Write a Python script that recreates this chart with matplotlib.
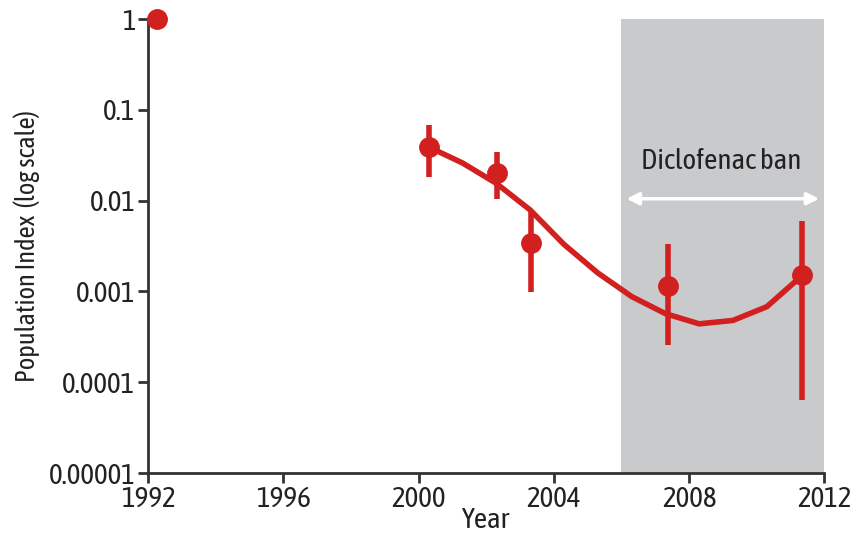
import matplotlib
matplotlib.use('Agg')
import matplotlib.pyplot as plt

# Survey estimates with error bar limits
survey_years = [1992.27, 2000.3, 2002.33, 2003.33, 2007.37, 2011.33]
survey_index = [1.0, 0.039, 0.020, 0.0034, 0.00115, 0.00152]
survey_upper = [1.0, 0.068, 0.034, 0.0079, 0.0033, 0.0059]
survey_lower = [1.0, 0.018, 0.0105, 0.00099, 0.00026, 0.000064]

# Fitted trend
trend_years = [2000.3, 2001.3, 2002.3, 2003.3, 2004.3, 2005.3, 2006.3,
               2007.3, 2008.3, 2009.3, 2010.3, 2011.3]
trend_index = [0.039, 0.026, 0.0155, 0.0079, 0.0033, 0.0016, 0.00088,
               0.00057, 0.00044, 0.00048, 0.00068, 0.00145]

ban_start, ban_end = 2006, 2012
x_ticks = [1992, 1996, 2000, 2004, 2008, 2012]
y_ticks = [1e-5, 1e-4, 1e-3, 1e-2, 1e-1, 1]
y_tick_labels = ['0.00001', '0.0001', '0.001', '0.01', '0.1', '1']

red = '#d21f1f'
axis_col = '#333333'
text_col = '#222222'
plt.rcParams['font.family'] = ['Asap Condensed', 'Archivo Narrow', 'DejaVu Sans']
plt.rcParams['font.weight'] = 400

fig = plt.figure(figsize=(8.56, 5.45), dpi=100)
ax = fig.add_axes([0.173, 0.132, 0.790, 0.833])

ax.axvspan(ban_start, ban_end, color='#c9cacc', lw=0, zorder=0)

ax.plot(trend_years, trend_index, color=red, lw=4, zorder=3, solid_joinstyle='round')

yerr = [[v - lo for v, lo in zip(survey_index, survey_lower)],
        [hi - v for v, hi in zip(survey_index, survey_upper)]]
ax.errorbar(survey_years, survey_index, yerr=yerr, fmt='o', color=red,
            ms=14, elinewidth=4, capsize=0, zorder=4, clip_on=False)

ax.annotate('', xy=(2006.15, 0.0105), xytext=(2011.85, 0.0105),
            arrowprops=dict(arrowstyle='<|-|>', color='white', lw=2.5,
                            mutation_scale=18, shrinkA=0, shrinkB=0))
ax.text(2008.95, 0.027, 'Diclofenac ban', ha='center', va='center',
        fontsize=21, color=text_col)

ax.set_yscale('log')
ax.set_xlim(1992, 2012)
ax.set_ylim(1e-5, 1)
ax.set_xticks(x_ticks)
ax.set_yticks(y_ticks)
ax.set_yticklabels(y_tick_labels)
ax.minorticks_off()

for side in ['top', 'right']:
    ax.spines[side].set_visible(False)
for side in ['left', 'bottom']:
    ax.spines[side].set_color(axis_col)
    ax.spines[side].set_linewidth(2)
ax.tick_params(length=7, width=2, color=axis_col, labelsize=21,
               labelcolor=text_col, pad=2)

ax.set_xlabel('Year', fontsize=21, color=text_col, labelpad=-4)
ax.set_ylabel('Population Index  (log scale)', fontsize=19, color=text_col, labelpad=6)

fig.savefig('out.png', dpi=100, facecolor='white')
